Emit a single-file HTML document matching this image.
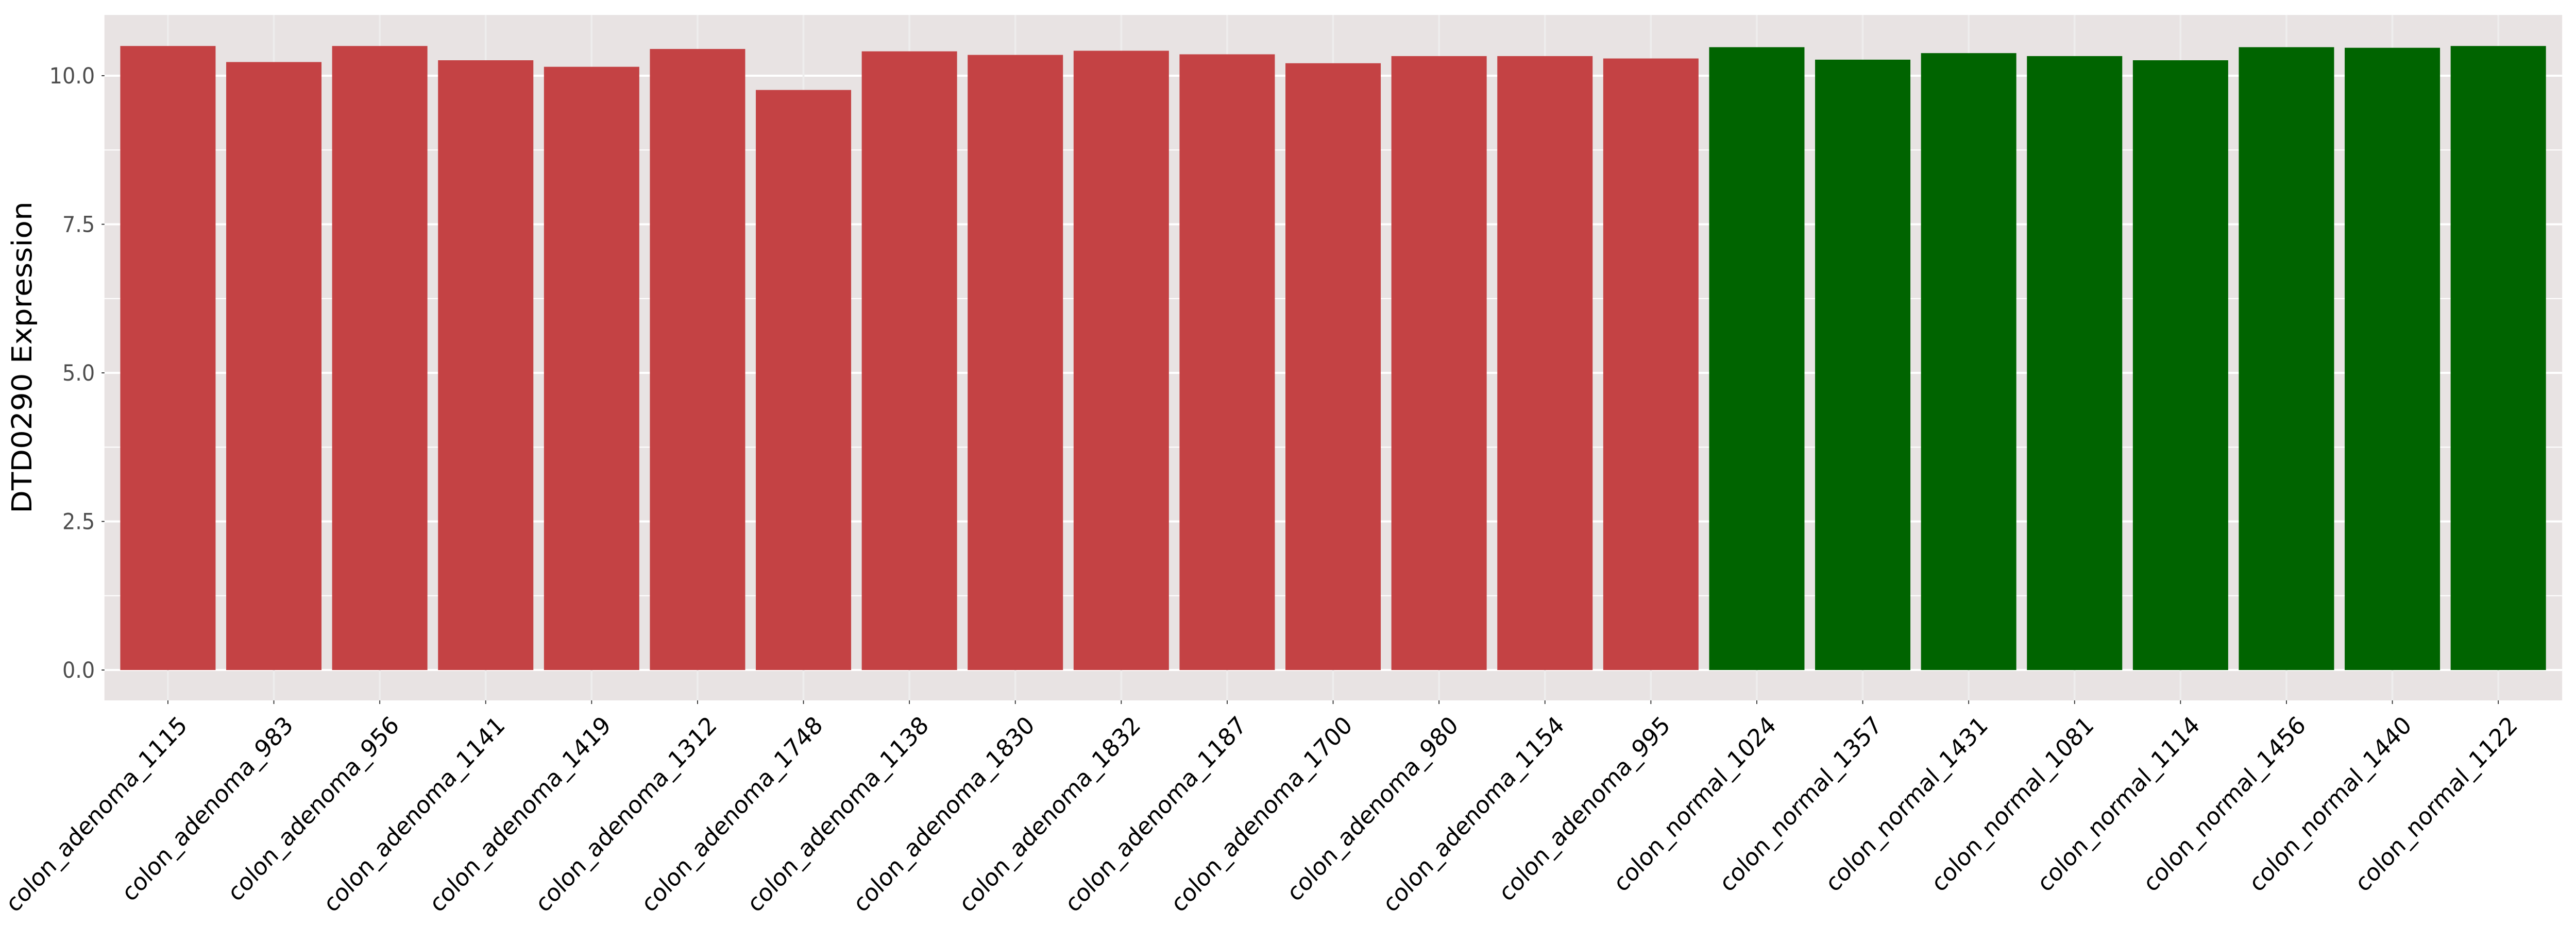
<!DOCTYPE html>
<html><head><meta charset="utf-8"><style>
html,body{margin:0;padding:0;background:#fff;width:100vw;height:100vh;overflow:hidden;}
svg{display:block;overflow:hidden;width:100vw;height:100vh;}
</style></head><body>
<svg viewBox="0 0 5400 1800" preserveAspectRatio="none" xmlns="http://www.w3.org/2000/svg" font-family="DejaVu Sans, Liberation Sans, sans-serif">
<rect x="0" y="0" width="5400" height="1800" fill="#fff"/>
<rect x="219" y="29" width="5152" height="1331" fill="#E8E3E3"/>
<g id="grid"></g>
<g id="bars"></g>
<g id="labels"></g>
<text transform="translate(66,694) rotate(-90)" text-anchor="middle" font-size="58" fill="#000">DTD0290 Expression</text>
</svg>
<script>
const ns="http://www.w3.org/2000/svg";
function el(t,a,p,txt){const e=document.createElementNS(ns,t);for(const k in a)e.setAttribute(k,a[k]);if(txt!==undefined)e.textContent=txt;p.appendChild(e);return e;}
const names=["colon_adenoma_1115","colon_adenoma_983","colon_adenoma_956","colon_adenoma_1141","colon_adenoma_1419","colon_adenoma_1312","colon_adenoma_1748","colon_adenoma_1138","colon_adenoma_1830","colon_adenoma_1832","colon_adenoma_1187","colon_adenoma_1700","colon_adenoma_980","colon_adenoma_1154","colon_adenoma_995","colon_normal_1024","colon_normal_1357","colon_normal_1431","colon_normal_1081","colon_normal_1114","colon_normal_1456","colon_normal_1440","colon_normal_1122"];
const vals=[10.50,10.23,10.50,10.26,10.15,10.45,9.76,10.41,10.35,10.42,10.36,10.21,10.33,10.33,10.29,10.48,10.27,10.38,10.33,10.26,10.48,10.47,10.50];
const y0=1301,k=115.4,pitch=222.05,c0=352,bw=199.8;
const g=document.getElementById("grid"),b=document.getElementById("bars"),l=document.getElementById("labels");
for(let i=0;i<9;i++){const v=i*1.25;const y=y0-v*k;const major=i%2==0;
 el("line",{x1:219,x2:5371,y1:y,y2:y,stroke:"#fff","stroke-width":major?4:2},g);}
for(let i=0;i<23;i++){const x=c0+i*pitch;el("line",{x1:x,x2:x,y1:29,y2:1360,stroke:"#EEEDED","stroke-width":4},g);
 el("line",{x1:x,x2:x,y1:1360,y2:1367,stroke:"#333","stroke-width":2},g);}
for(let i=0;i<23;i++){const x=c0+i*pitch-bw/2;const h=vals[i]*k;
 el("rect",{x:x,y:y0-h,width:bw,height:h,fill:i<15?"#C44244":"#006400"},b);
 const tx=c0+i*pitch+43,ty=1411;
 el("text",{transform:`translate(${tx},${ty}) rotate(-45)`,"text-anchor":"end","font-size":47,fill:"#000"},l,names[i]);}
for(let i=0;i<5;i++){const v=i*2.5;const y=y0-v*k;
 el("line",{x1:213,x2:219,y1:y,y2:y,stroke:"#333","stroke-width":2},g);
 el("text",{x:199,y:y+15,"text-anchor":"end","font-size":43,fill:"#4D4D4D"},l,v.toFixed(1));}
</script>
</body></html>
